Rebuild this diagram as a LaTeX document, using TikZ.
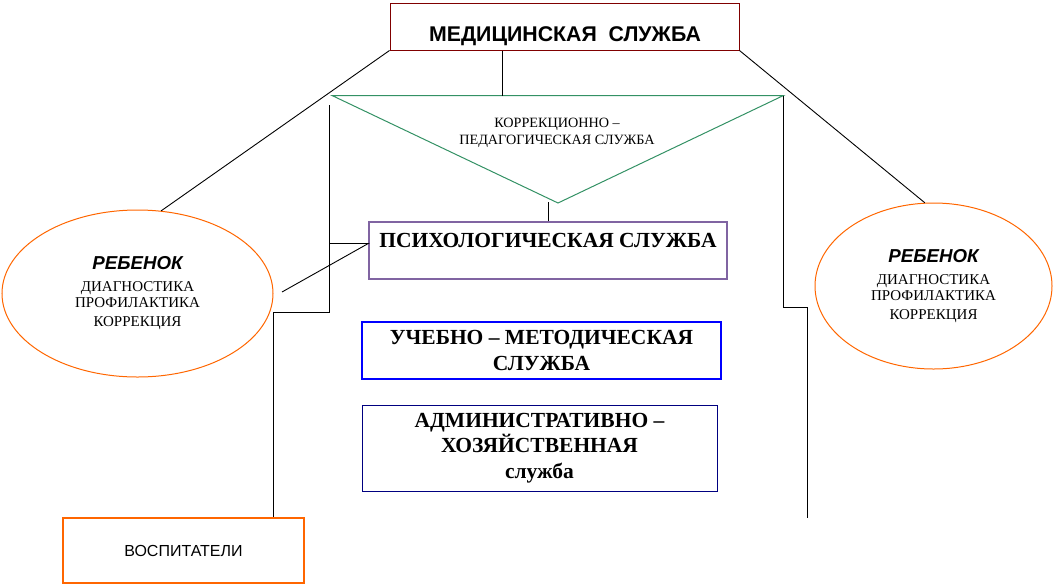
\documentclass[tikz,border=0pt]{standalone}
\usepackage{fontspec}
\setmainfont{Liberation Serif}
\newfontfamily\arialfont{Liberation Sans}
\usetikzlibrary{shapes.geometric}

\definecolor{medred}{RGB}{128,0,0}
\definecolor{trigreen}{RGB}{51,145,100}
\definecolor{psyviolet}{RGB}{128,100,162}
\definecolor{orangeln}{RGB}{255,102,0}
\definecolor{admnavy}{RGB}{0,0,128}

\tikzstyle{serv}=[draw, rectangle, inner sep=0pt, line width=1pt, align=center]
\tikzstyle{child}=[draw=orangeln, ellipse, inner sep=0pt, line width=1pt, align=center, font=\fontsize{15}{16}\selectfont]
\tikzstyle{conn}=[draw=black, line width=0.9pt]

\begin{document}
\begin{tikzpicture}[x=1pt,y=-1pt]
\useasboundingbox (0,0) rectangle (1054,587);

\node[serv,draw=medred,minimum width=349pt,minimum height=47pt] (med) at (564.5,26.5) {};
\node[font=\arialfont\bfseries\fontsize{21.3}{24}\selectfont] (medtxt) at (565,36.5) {МЕДИЦИНСКАЯ\ \ СЛУЖБА};

\coordinate (tl) at (332,95.5);
\coordinate (tr) at (783.5,95.5);
\coordinate (tb) at (558,203);
\draw[draw=trigreen, line width=1pt] (tl) -- (tr) -- (tb) -- cycle;
\node[align=center, font=\fontsize{14.2}{17}\selectfont] (kor) at (557,133) {КОРРЕКЦИОННО –\\ПЕДАГОГИЧЕСКАЯ СЛУЖБА};

\node[serv,draw=psyviolet,line width=1.5pt,minimum width=358pt,minimum height=57pt] (psy) at (548,250.5) {};
\node[font=\bfseries\fontsize{21.5}{24}\selectfont] (psytxt) at (548,240) {ПСИХОЛОГИЧЕСКАЯ СЛУЖБА};

\node[serv,draw=blue,line width=2pt,minimum width=359pt,minimum height=57pt,font=\bfseries\fontsize{21.5}{26}\selectfont] (uch) at (541.5,350.5) {УЧЕБНО – МЕТОДИЧЕСКАЯ\\СЛУЖБА};

\node[serv,draw=admnavy,minimum width=355pt,minimum height=86pt,font=\bfseries\fontsize{21.5}{25.5}\selectfont] (adm) at (539.5,448) {АДМИНИСТРАТИВНО –\\ХОЗЯЙСТВЕННАЯ\\служба};

\node[serv,draw=orangeln,line width=1.5pt,minimum width=241pt,minimum height=65pt,font=\arialfont\fontsize{16}{18}\selectfont] (vosp) at (183.5,550.5) {ВОСПИТАТЕЛИ};

\node[child,minimum width=271pt,minimum height=167pt] (chl) at (137.5,293.5) {{\arialfont\bfseries\itshape\fontsize{18.7}{20}\selectfont РЕБЕНОК}\\[6pt]ДИАГНОСТИКА\\ПРОФИЛАКТИКА\\[3pt]КОРРЕКЦИЯ};
\node[child,minimum width=237pt,minimum height=166pt] (chr) at (933.5,286) {{\arialfont\bfseries\itshape\fontsize{18.7}{20}\selectfont РЕБЕНОК}\\[6pt]ДИАГНОСТИКА\\ПРОФИЛАКТИКА\\[3pt]КОРРЕКЦИЯ};

\coordinate (mdrop) at (502.5,95.5);
\draw[conn] (med.south -| mdrop) -- (mdrop);
\draw[conn] (med.south west) -- (chl.74);
\draw[conn] (med.south east) -- (chr.96);
\draw[conn] (psy.north) -- ++(0,-19);

\coordinate (lt) at (329.5,105);
\coordinate (lj) at (329.5,243.5);
\coordinate (lk) at (329.5,312.5);
\coordinate (vdrop) at (273.5,312.5);
\coordinate (cl) at (282,292);
\draw[conn] (lt) -- (lk) -- (vdrop) -- (vdrop |- vosp.north);
\draw[conn] (lj) -- (lj -| psy.west) -- (cl);

\coordinate (rk) at (783.5,307.5);
\coordinate (rdrop) at (807.5,307.5);
\coordinate (rend) at (807.5,518);
\draw[conn] (tr) -- (rk) -- (rdrop) -- (rend);

\end{tikzpicture}
\end{document}
